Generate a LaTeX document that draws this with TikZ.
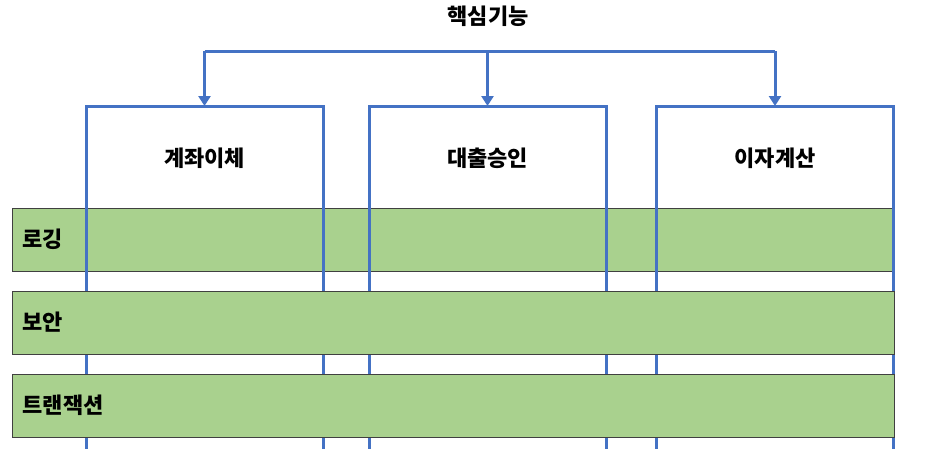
\documentclass[tikz,border=0pt]{standalone}
\usepackage{fontspec}
\newfontfamily\kr{Noto Sans CJK KR}
\usetikzlibrary{arrows.meta,calc}
\definecolor{oblue}{HTML}{4472C4}
\definecolor{ogreen}{HTML}{A9D18E}
\definecolor{edge}{HTML}{404040}
\begin{document}
\begin{tikzpicture}[x=1pt,y=-1pt,
  txt/.style={font=\kr\bfseries\fontsize{22}{26}\selectfont, text=black, inner sep=0pt},
  featbox/.style={draw=oblue, line width=3pt, minimum width=237pt, minimum height=380pt, anchor=north, inner sep=0pt},
  bar/.style={draw=edge, line width=1.2pt, fill=ogreen, minimum width=882pt, minimum height=63pt, anchor=north west, inner sep=0pt},
  conn/.style={draw=oblue, line width=3pt},
  arr/.style={conn, -{Triangle[length=10pt,width=12pt]}, shorten >=-1pt}
]
\useasboundingbox (0,0) rectangle (931,448);
\clip (0,0) rectangle (931,448);
\fill[white] (0,0) rectangle (931,448);
% title
\node[txt] (title) at (488,16) {핵심기능};
% bar 1 (under boxes)
\node[bar] (r1) at (11.5,207.5) {};
\node[txt, anchor=west] (l1) at ($(r1.west)+(11,0)$) {로깅};
% boxes
\node[featbox] (b1) at (204.5,105) {};
\node[featbox] (b2) at (487.5,105) {};
\node[featbox] (b3) at (775,105) {};
\node[txt] (t1) at ($(b1.north)+(0,53)$) {계좌이체};
\node[txt] (t2) at ($(b2.north)+(0,53)$) {대출승인};
\node[txt] (t3) at ($(b3.north)+(0,53)$) {이자계산};
% bracket
\coordinate (j) at (487.5,51);
\draw[conn] (b1.north |- j) -- (b3.north |- j);
\draw[arr] (b1.north |- j) -- (b1.north);
\draw[arr] (j) -- (b2.north);
\draw[arr] (b3.north |- j) -- (b3.north);
% bars 2,3 (over boxes)
\node[bar] (r2) at (11.5,290.5) {};
\node[txt, anchor=west] (l2) at ($(r2.west)+(11,0)$) {보안};
\node[bar] (r3) at (11.5,373.5) {};
\node[txt, anchor=west] (l3) at ($(r3.west)+(11,0)$) {트랜잭션};
\end{tikzpicture}
\end{document}
